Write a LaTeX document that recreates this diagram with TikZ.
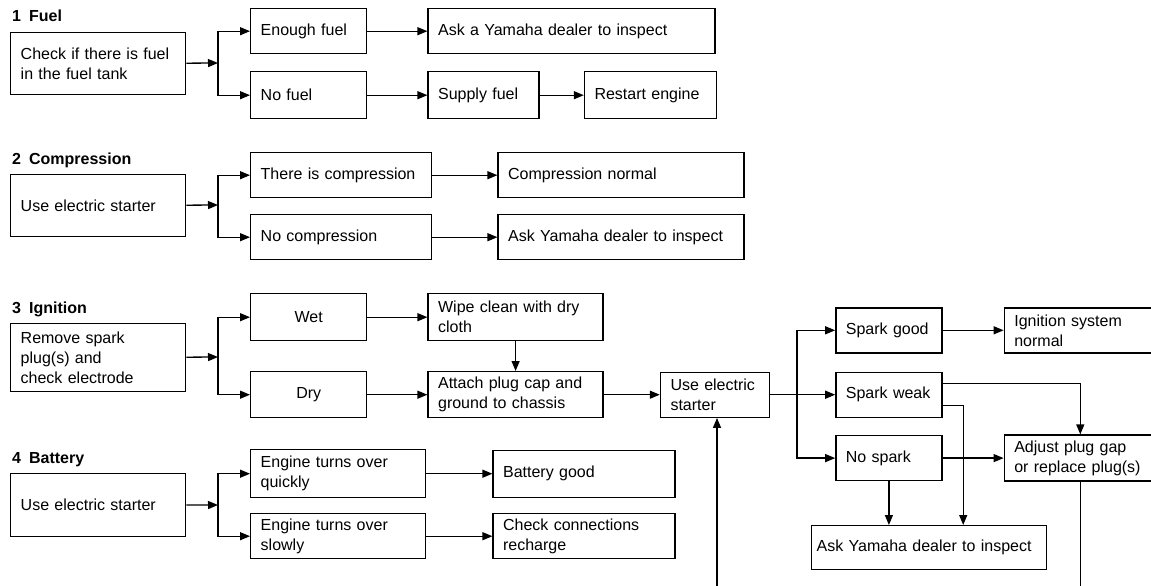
\documentclass[tikz,border=0pt]{standalone}
\usepackage{fontspec}
\setmainfont{Liberation Sans}
\usetikzlibrary{arrows.meta,positioning}

\begin{document}
\begin{tikzpicture}[x=1pt, y=-1pt,
  font=\fontsize{16pt}{20pt}\selectfont,
  box/.style={draw, line width=1.4pt, align=left, inner xsep=10pt, inner ysep=2pt,
              minimum height=45pt},
  bw/.style={minimum width=#1, text width=#1-20pt},
  mid/.style={align=center},
  arrow/.style={-{Triangle[length=10pt, width=8pt]}, line width=1.3pt},
  tier/.style={font=\fontsize{16pt}{20pt}\selectfont\bfseries, inner sep=2pt, anchor=base west}]
\useasboundingbox (0,0) rectangle (1151,586);
\clip (0,0) rectangle (1151,586);
% 1 fuel
\node[box, bw=175pt, minimum height=62pt, anchor=north west] (fuelq) at (10,32) {Check if there is fuel\\in the fuel tank};
\node[tier] (t1) at ([yshift=10pt]fuelq.north west) {1\enspace Fuel};
\node[box, bw=116pt, anchor=north west] (enough) at (250,8) {Enough fuel};
\node[box, bw=116pt, minimum height=47pt, anchor=north west] (nofuel) at (250,71) {No fuel};
\node[box, bw=287pt, right=60pt of enough] (ask1) {Ask a Yamaha dealer to inspect};
\node[box, bw=111pt, minimum height=47pt, right=60pt of nofuel] (supply) {Supply fuel};
\node[box, bw=132pt, minimum height=47pt, right=44pt of supply] (restart) {Restart engine};
\coordinate (j1) at (218,63);
\draw[arrow] (fuelq) -- (j1);
\draw[arrow] (j1) |- (enough);
\draw[arrow] (j1) |- (nofuel);
\draw[arrow] (enough) -- (ask1);
\draw[arrow] (nofuel) -- (supply);
\draw[arrow] (supply) -- (restart);
% 2 compression
\node[box, bw=175pt, minimum height=62pt, anchor=north west] (compq) at (10,174) {Use electric starter};
\node[tier] (t2) at ([yshift=10pt]compq.north west) {2\enspace Compression};
\node[box, bw=181pt, anchor=north west] (thereis) at (250,152) {There is compression};
\node[box, bw=181pt, anchor=north west] (nocomp) at (250,214) {No compression};
\node[box, bw=246pt, right=65pt of thereis] (compok) {Compression normal};
\node[box, bw=246pt, right=65pt of nocomp] (ask2) {Ask Yamaha dealer to inspect};
\coordinate (j2) at (218,205);
\draw[arrow] (compq) -- (j2);
\draw[arrow] (j2) |- (thereis);
\draw[arrow] (j2) |- (nocomp);
\draw[arrow] (thereis) -- (compok);
\draw[arrow] (nocomp) -- (ask2);
% 3 ignition
\node[box, bw=175pt, minimum height=68pt, anchor=north west] (ignq) at (10,323) {Remove spark\\plug(s) and\\check electrode};
\node[tier] (t3) at ([yshift=10pt]ignq.north west) {3\enspace Ignition};
\node[box, bw=116pt, mid, minimum height=47pt, anchor=north west] (wet) at (250,293) {Wet};
\node[box, bw=116pt, mid, minimum height=46pt, anchor=north west] (dry) at (250,371) {Dry};
\node[box, bw=175pt, minimum height=47pt, right=60pt of wet] (wipe) {Wipe clean with dry\\cloth};
\node[box, bw=175pt, minimum height=46pt, right=60pt of dry] (attach) {Attach plug cap and\\ground to chassis};
\node[box, bw=109pt, right=56pt of attach] (starter) {Use electric\\starter};
\node[box, bw=106pt, right=65pt of starter] (weak) {Spark weak};
\node[box, bw=106pt, above=18pt of weak] (good) {Spark good};
\node[box, bw=106pt, below=17pt of weak] (nospark) {No spark};
\node[box, bw=152pt, right=61pt of good] (ignok) {Ignition system\\normal};
\node[box, bw=152pt, minimum height=46pt, right=61pt of nospark] (adjust) {Adjust plug gap\\or replace plug(s)};
\node[box, bw=235pt, text width=225pt, inner xsep=5pt, minimum height=44pt, anchor=north west] (ask3) at (811,525) {Ask Yamaha dealer to inspect};
\coordinate (j3) at (218,357);
\coordinate (j5) at (797,394);
\coordinate (fb) at (717,600);
\draw[arrow] (ignq) -- (j3);
\draw[arrow] (j3) |- (wet);
\draw[arrow] (j3) |- (dry);
\draw[arrow] (wet) -- (wipe);
\draw[arrow] (dry) -- (attach);
\draw[arrow] (wipe) -- (attach);
\draw[arrow] (attach) -- (starter);
\draw[arrow] (starter) -- (weak);
\draw[arrow] (j5) |- (good);
\draw[arrow] (j5) |- (nospark);
\draw[arrow] (good) -- (ignok);
\draw[arrow] (nospark) -- (adjust);
\draw[arrow] ([yshift=11pt]weak.east) -| (adjust);
\draw[arrow] ([yshift=-11pt]weak.east) -| ([xshift=34pt]ask3.north);
\draw[arrow] (nospark) -- (nospark |- ask3.north);
\draw[arrow] (adjust) |- (fb) -- (fb |- starter.south);
% 4 battery
\node[box, bw=175pt, minimum height=63pt, anchor=north west] (battq) at (10,473) {Use electric starter};
\node[tier] (t4) at ([yshift=10pt]battq.north west) {4\enspace Battery};
\node[box, bw=175pt, minimum height=48pt, anchor=north west] (quick) at (250,449) {Engine turns over\\quickly};
\node[box, bw=175pt, anchor=north west] (slow) at (250,513) {Engine turns over\\slowly};
\node[box, bw=182pt, minimum height=47pt, right=66pt of quick] (battok) {Battery good};
\node[box, bw=182pt, right=66pt of slow] (conn) {Check connections\\recharge};
\coordinate (j4) at (218,505);
\draw[arrow] (battq) -- (j4);
\draw[arrow] (j4) |- (quick);
\draw[arrow] (j4) |- (slow);
\draw[arrow] (quick) -- (battok);
\draw[arrow] (slow) -- (conn);
\end{tikzpicture}
\end{document}
